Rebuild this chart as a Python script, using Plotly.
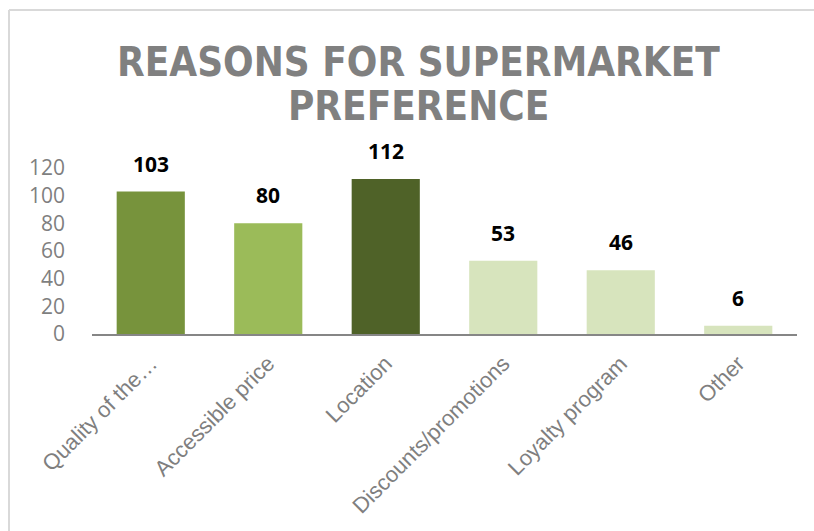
import plotly.graph_objects as go

categories = ["Quality of the…", "Accessible price", "Location",
              "Discounts/promotions", "Loyalty program", "Other"]
counts = [103, 80, 112, 53, 46, 6]
bar_colors = ["#77933C", "#9BBB59", "#4F6228", "#D7E4BD", "#D7E4BD", "#D7E4BD"]
y_ticks = [0, 20, 40, 60, 80, 100, 120]
title_lines = ["REASONS FOR SUPERMARKET", "PREFERENCE"]

fig = go.Figure()
fig.add_trace(go.Bar(
    x=categories, y=counts,
    marker=dict(color=bar_colors, line=dict(width=0)),
    hoverinfo="x+y",
    showlegend=False,
))

# value labels above each bar
for cat, val in zip(categories, counts):
    fig.add_annotation(
        x=cat, y=val, xref="x", yref="y",
        text=f"<b>{val}</b>", showarrow=False,
        yanchor="bottom", yshift=12,
        font=dict(family="Open Sans, Liberation Sans, sans-serif", size=21, color="#000000"),
    )

# two-line chart title
title_font = dict(family="DejaVu Sans Condensed, Liberation Sans, sans-serif",
                  size=40, color="#808080")
for i, line in enumerate(title_lines):
    fig.add_annotation(
        x=0.463, y=1.0, xref="paper", yref="paper",
        text=f"<b>{line}</b>", showarrow=False,
        xanchor="center", yanchor="middle", height=42,
        yshift=106 - i * 44,
        font=title_font,
    )

# outer chart frame (top and left edges)
fig.add_shape(type="line", xref="paper", yref="paper",
              x0=-0.1177, x1=1.2, y0=1.952, y1=1.952,
              line=dict(color="#D9D9D9", width=2))
fig.add_shape(type="line", xref="paper", yref="paper",
              x0=-0.1177, x1=-0.1177, y0=1.952, y1=-1.5,
              line=dict(color="#D9D9D9", width=2))

fig.update_layout(
    width=814, height=531,
    margin=dict(l=92, r=17, t=168, b=197),
    paper_bgcolor="white", plot_bgcolor="white",
    bargap=0.42,
    xaxis=dict(
        tickangle=-45,
        tickfont=dict(family="Liberation Sans, Arial, sans-serif", size=22, color="#7F7F7F"),
        showline=True, linecolor="#868686", linewidth=2,
        ticks="", showgrid=False, fixedrange=True,
        ticklabelstandoff=6,
    ),
    yaxis=dict(
        range=[0, 120], tickvals=y_ticks,
        tickfont=dict(family="Open Sans, Liberation Sans, sans-serif", size=21, color="#7F7F7F"),
        showgrid=False, zeroline=False, showline=False, ticks="",
        ticklabelstandoff=26, fixedrange=True,
    ),
)

fig.write_html("out.html")
